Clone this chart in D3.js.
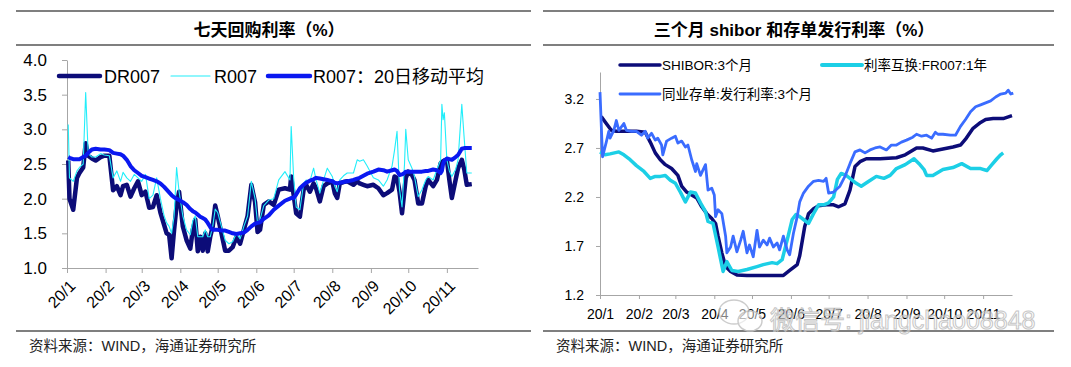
<!DOCTYPE html>
<html>
<head>
<meta charset="utf-8">
<script src="https://cdn.jsdelivr.net/npm/d3@7"></script>
<style>
body{margin:0;background:#fff;}
text{font-family:"Liberation Sans","Noto Sans CJK SC",sans-serif;}
</style>
</head>
<body>
<svg id="chart" width="1071" height="367"></svg>
<script>
// ---------- data (days counted from 2020-01-01) ----------
const monthLabels = ["20/1","20/2","20/3","20/4","20/5","20/6","20/7","20/8","20/9","20/10","20/11"];

// left chart: 7-day repo rates
const repoDays = [1,2,5,8,10,13,15,17,20,23,27,30,34,37,40,43,45,48,51,54,57,60,63,66,69,72,75,78,80,82,
  84,86,88,90,93,96,99,101,103,105,107,109,111,113,115,117,119,121,124,127,130,133,136,139,142,145,148,151,153,155,
  158,162,166,170,175,179,180,182,184,187,190,192,195,198,200,203,206,209,213,215,217,219,222,225,230,233,235,238,241,246,
  250,254,257,261,263,265,267,269,271,272,274,277,279,282,285,288,290,294,297,300,301,302,303,305,307,309,312,314,317,319,321,325];
const dr007 = [2.55,2.0,1.84,2.3,2.37,2.45,2.8,2.62,2.58,2.55,2.6,2.62,2.62,2.12,2.18,2.05,2.18,2.2,2.03,2.15,
  2.25,2.05,2.1,1.87,1.88,2.05,1.8,1.62,1.5,1.48,1.14,1.55,1.9,2.1,1.6,1.4,1.28,1.55,1.7,1.24,
  1.45,1.25,1.5,1.24,1.45,1.6,1.9,1.75,1.5,1.25,1.25,1.3,1.45,1.35,1.55,1.75,2.2,1.95,1.52,1.55,
  1.91,1.96,1.91,2.13,2.15,2.13,2.32,2.05,1.79,1.74,2.13,2.2,2.1,2.22,2.15,1.96,2.18,2.22,2.25,2.08,
  2.01,2.22,2.24,2.25,2.2,2.25,2.22,2.2,2.18,2.2,2.15,2.05,2.08,2.13,2.32,2.3,2.1,1.79,2.13,2.3,
  2.39,2.34,2.27,1.93,1.93,2.18,2.27,2.18,2.27,2.51,2.53,2.54,2.55,2.56,2.27,2.01,2.27,2.44,2.56,2.42,2.2,2.21];
const r007 = [3.07,2.3,2.25,2.4,2.45,2.5,3.53,2.65,2.6,2.6,2.65,2.63,2.62,2.3,2.4,2.25,2.38,2.3,2.25,2.35,
  2.3,2.25,2.35,2.0,2.05,2.3,2.0,1.75,1.65,1.6,1.5,1.75,2.45,2.1,1.75,1.55,1.48,1.68,1.75,1.45,
  1.45,1.45,1.55,1.45,1.45,1.6,1.85,1.8,1.6,1.4,1.35,1.38,1.5,1.42,1.6,1.75,2.25,2.0,1.65,1.7,
  1.9,1.98,2.0,2.27,2.39,2.27,3.04,2.3,1.88,1.84,2.22,2.27,2.25,2.44,2.27,2.08,2.27,2.44,2.32,2.18,
  2.1,2.27,2.33,2.37,2.37,2.56,2.54,2.56,2.47,2.3,2.27,2.18,2.27,2.47,2.7,2.97,2.13,1.88,2.5,3.0,
  2.56,2.44,2.32,2.03,2.13,2.27,2.32,2.27,2.42,2.56,3.36,3.14,3.24,2.56,2.4,2.32,2.42,2.56,3.36,2.85,2.37,2.37];
const r007ma20 = [2.6,2.59,2.57,2.57,2.57,2.6,2.62,2.66,2.71,2.72,2.71,2.71,2.7,2.66,2.65,2.64,2.62,2.56,2.47,2.41,
  2.37,2.33,2.31,2.29,2.27,2.25,2.22,2.17,2.13,2.09,2.05,2.02,2.0,1.98,1.95,1.91,1.85,1.82,1.8,1.77,
  1.74,1.72,1.7,1.65,1.59,1.55,1.55,1.55,1.54,1.54,1.52,1.5,1.49,1.5,1.51,1.55,1.6,1.64,1.65,1.66,
  1.71,1.76,1.84,1.9,1.97,2.0,2.01,2.01,2.06,2.15,2.2,2.23,2.26,2.28,2.3,2.29,2.28,2.27,2.25,2.23,
  2.22,2.23,2.24,2.25,2.27,2.29,2.3,2.33,2.36,2.39,2.42,2.41,2.39,2.41,2.42,2.4,2.34,2.35,2.37,2.39,
  2.39,2.39,2.39,2.39,2.39,2.4,2.4,2.42,2.41,2.37,2.4,2.5,2.55,2.58,2.57,2.56,2.6,2.63,2.72,2.73,2.73,2.73];

// right chart: 3M shibor, FR007 1Y swap, 3M NCD
const shiborDays = [1,5,9,13,21,29,36,40,44,48,52,57,62,65,69,73,77,81,85,89,92,94,97,100,104,109,117,130,146,151,
  157,159,163,166,170,174,180,186,190,195,199,203,207,212,223,236,243,252,257,265,273,281,287,291,297,303,307,313,321,328];
const shibor3m = [3.02,2.95,2.88,2.87,2.87,2.87,2.86,2.76,2.65,2.58,2.53,2.49,2.42,2.31,2.25,2.22,2.19,2.1,2.03,1.98,
  1.93,1.8,1.63,1.49,1.44,1.405,1.4,1.4,1.4,1.45,1.51,1.6,1.9,2.03,2.08,2.11,2.12,2.12,2.1,2.13,
  2.27,2.51,2.56,2.59,2.59,2.6,2.63,2.7,2.7,2.67,2.69,2.71,2.73,2.79,2.9,2.96,2.99,3.0,3.0,3.03];
const fr007Days = [0,4,8,15,19,24,29,35,40,44,48,52,56,60,64,68,72,76,80,84,86,90,94,98,101,105,110,117,125,130,
  137,141,145,149,153,156,159,163,166,170,174,178,182,186,189,192,196,199,204,208,214,220,226,231,236,243,250,254,258,260,
  265,273,281,288,295,303,308,312,316,319,321];
const fr007Swap = [2.66,2.63,2.64,2.66,2.63,2.58,2.52,2.46,2.39,2.41,2.41,2.42,2.37,2.34,2.25,2.15,2.25,2.24,2.14,2.05,
  1.95,1.93,1.69,1.44,1.54,1.45,1.44,1.46,1.49,1.51,1.53,1.52,1.56,1.76,1.97,2.02,2.0,1.96,1.93,2.03,
  2.12,2.12,2.14,2.2,2.38,2.44,2.42,2.39,2.34,2.31,2.36,2.41,2.39,2.42,2.49,2.53,2.59,2.54,2.48,2.42,
  2.42,2.48,2.5,2.54,2.49,2.49,2.47,2.53,2.59,2.63,2.65];
const ncdDays = [0,2,5,7,8,11,13,15,19,21,25,29,33,36,38,41,44,46,49,50,53,57,60,62,65,68,70,73,76,77,
  80,84,86,89,91,92,94,97,100,101,104,106,109,112,114,117,119,122,125,127,130,133,135,138,141,143,146,149,151,154,
  157,159,162,166,170,174,178,180,182,186,191,195,199,203,207,211,215,219,223,228,232,236,240,244,249,252,256,260,264,267,
  269,273,279,283,287,291,295,299,303,307,311,315,319,323,325,327,329];
const ncd3m = [3.27,2.61,2.76,2.87,2.8,2.88,2.98,2.88,2.95,2.88,2.87,2.87,2.83,2.87,2.8,2.85,2.78,2.8,2.73,2.63,
  2.77,2.8,2.82,2.75,2.77,2.71,2.73,2.58,2.46,2.54,2.42,2.53,2.27,2.29,2.22,2.0,2.07,2.03,1.8,1.63,
  1.69,1.8,1.64,1.76,1.85,1.63,1.71,1.59,1.86,1.69,1.76,1.71,1.78,1.69,1.73,1.66,1.8,1.66,1.61,1.83,
  2.0,2.15,2.24,2.31,2.36,2.37,2.36,2.39,2.24,2.25,2.31,2.41,2.54,2.66,2.68,2.65,2.68,2.7,2.71,2.68,
  2.73,2.73,2.76,2.78,2.81,2.84,2.82,2.83,2.8,2.86,2.84,2.84,2.83,2.83,2.92,2.99,3.07,3.12,3.14,3.16,
  3.18,3.22,3.25,3.26,3.29,3.25,3.26];

const leftTicks = [1.0,1.5,2.0,2.5,3.0,3.5,4.0];
const rightTicks = [1.2,1.7,2.2,2.7,3.2];

// ---------- helpers ----------
const start = new Date(2020,0,1);
const toDate = d => d3.timeDay.offset(start, d);
const monthStarts = monthLabels.map((l,i) => new Date(2020,i,1));
const axisGray = "#a6a6a6";

const svg = d3.select("#chart");
svg.append("rect").attr("width",1071).attr("height",367).attr("fill","#fff");

function frame(x0, x1, cx, title, sourceX){
    [11,45,331].forEach(y => svg.append("line")
        .attr("x1",x0).attr("x2",x1).attr("y1",y).attr("y2",y)
        .attr("stroke","#000").attr("stroke-width",1.2));
    svg.append("text").attr("x",cx).attr("y",36).attr("text-anchor","middle")
        .attr("font-size",17).attr("font-weight","bold").text(title);
    svg.append("text").attr("x",sourceX).attr("y",351)
        .attr("font-size",14.5).attr("fill","#222").text("资料来源：WIND，海通证券研究所");
}

function styleAxis(g){
    g.select(".domain").attr("stroke",axisGray);
    g.selectAll(".tick line").attr("stroke",axisGray);
    g.selectAll("text").attr("fill","#000").attr("font-family",null);
}

function drawSeries(g, days, vals, x, y, color, width){
    const line = d3.line().x((d,i) => x(toDate(days[i]))).y(d => y(d));
    g.append("path").datum(vals).attr("d",line)
        .attr("fill","none").attr("stroke",color).attr("stroke-width",width)
        .attr("stroke-linejoin","round");
}

// ---------- left chart ----------
frame(16, 531, 269, "七天回购利率（%）", 29);

const xL = d3.scaleTime().domain([start, toDate(330)]).range([67,478]);
const yL = d3.scaleLinear().domain([1,4]).range([268,60]);
const gL = svg.append("g");

gL.append("g").attr("transform","translate(67,0)")
    .call(d3.axisLeft(yL).tickValues(leftTicks).tickFormat(d3.format(".1f"))
        .tickSize(5).tickPadding(15).tickSizeOuter(0))
    .call(styleAxis)
    .selectAll("text").attr("font-size",17);

gL.append("g").attr("transform","translate(0,268)")
    .call(d3.axisBottom(xL).tickValues(monthStarts).tickFormat((d,i) => monthLabels[i])
        .tickSize(5).tickSizeOuter(0))
    .call(styleAxis)
    .selectAll("text").attr("font-size",16)
        .attr("x",0).attr("y",0).attr("dy",0)
        .attr("text-anchor","end")
        .attr("transform","translate(9,19) rotate(-45)");

drawSeries(gL, repoDays, dr007, xL, yL, "#0c0c78", 4.5);
drawSeries(gL, repoDays, r007, xL, yL, "#22eefa", 1.1);
drawSeries(gL, repoDays, r007ma20, xL, yL, "#0a18f0", 4);

const legL = [
    {x1:59, x2:100, tx:104, color:"#0c0c78", w:4.5, label:"DR007"},
    {x1:171, x2:210, tx:214, color:"#22eefa", w:1.1, label:"R007"},
    {x1:268, x2:310, tx:313, color:"#0a18f0", w:4.5, label:"R007：20日移动平均"}
];
legL.forEach(l => {
    gL.append("line").attr("x1",l.x1).attr("x2",l.x2).attr("y1",76).attr("y2",76)
        .attr("stroke",l.color).attr("stroke-width",l.w).attr("stroke-linecap","round");
    gL.append("text").attr("x",l.tx).attr("y",83).attr("font-size",18).text(l.label);
});

// ---------- right chart ----------
frame(543, 1054, 794, "三个月 shibor 和存单发行利率（%）", 556);

const xR = d3.scaleTime().domain([start, toDate(328)]).range([600,1012]);
const yR = d3.scaleLinear().domain([1.2,3.475]).range([295,72]);
const gR = svg.append("g");

gR.append("g").attr("transform","translate(600,0)")
    .call(d3.axisLeft(yR).tickValues(rightTicks).tickFormat(d3.format(".1f"))
        .tickSize(4).tickPadding(12).tickSizeOuter(0))
    .call(styleAxis)
    .selectAll("text").attr("font-size",14);

gR.append("g").attr("transform","translate(0,295)")
    .call(d3.axisBottom(xR).tickValues(monthStarts).tickFormat((d,i) => monthLabels[i])
        .tickSize(4).tickPadding(10).tickSizeOuter(0))
    .call(styleAxis)
    .selectAll("text").attr("font-size",14);

drawSeries(gR, shiborDays, shibor3m, xR, yR, "#0c0c78", 3.5);
drawSeries(gR, fr007Days, fr007Swap, xR, yR, "#1ccfe6", 3.5);
drawSeries(gR, ncdDays, ncd3m, xR, yR, "#3a6cff", 2.8);

const legR = [
    {x1:620, x2:660, y:65, tx:662, color:"#0c0c78", w:3.5, label:"SHIBOR:3个月"},
    {x1:822, x2:862, y:65, tx:864, color:"#1ccfe6", w:4, label:"利率互换:FR007:1年"},
    {x1:620, x2:660, y:94, tx:662, color:"#3a6cff", w:2.8, label:"同业存单:发行利率:3个月"}
];
legR.forEach(l => {
    gR.append("line").attr("x1",l.x1).attr("x2",l.x2).attr("y1",l.y).attr("y2",l.y)
        .attr("stroke",l.color).attr("stroke-width",l.w).attr("stroke-linecap","round");
    gR.append("text").attr("x",l.tx).attr("y",l.y+5).attr("font-size",13.5).text(l.label);
});

// ---------- watermark ----------
const wm = svg.append("g").attr("opacity",0.85);
wm.append("ellipse").attr("cx",734).attr("cy",312).attr("rx",15).attr("ry",12)
    .attr("fill","rgba(255,255,255,0.6)").attr("stroke","#c4c4c4").attr("stroke-width",1.5);
wm.append("ellipse").attr("cx",750).attr("cy",321).attr("rx",12).attr("ry",10)
    .attr("fill","rgba(255,255,255,0.6)").attr("stroke","#c4c4c4").attr("stroke-width",1.5);
wm.append("text").attr("x",770).attr("y",329).attr("font-size",25)
    .attr("fill","rgba(255,255,255,0.6)").attr("stroke","#bcbcbc").attr("stroke-width",1)
    .text("微信号: jiangchao08848");
</script>
</body>
</html>
